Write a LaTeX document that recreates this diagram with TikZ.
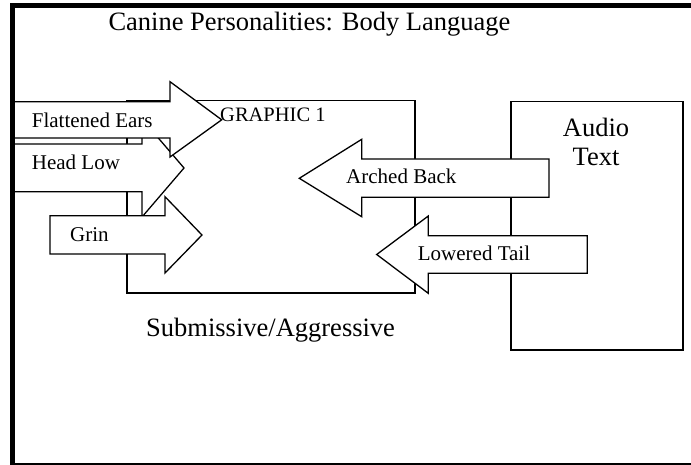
\documentclass[tikz,border=0pt]{standalone}
\usepackage{fontspec}
\setmainfont{Liberation Serif}
\begin{document}
\begin{tikzpicture}[x=1pt,y=-1pt,
  panel/.style={draw, line width=1.3pt, fill=white, inner sep=0pt},
  blockarrow/.style={draw, line width=1.3pt, fill=white, line join=miter},
  label/.style={inner sep=0pt, anchor=base west, font=\fontsize{21}{25}\selectfont},
  bigtext/.style={inner sep=0pt, font=\fontsize{26.5}{30}\selectfont}]
\useasboundingbox (0,0) rectangle (691,465);
\fill[white] (0,0) rectangle (691,465);

% picture area and audio panel
\node[panel, minimum width=288pt, minimum height=192.5pt] (graphic) at (271,196.75) {};
\node[panel, minimum width=172pt, minimum height=248.5pt] (audio) at (597,225.75) {};
\node[inner sep=0pt, anchor=base west, font=\fontsize{20.5}{24}\selectfont] (graphiclbl) at (220,121.7) {GRAPHIC 1};

% body-language cues pointing into the picture
\draw[blockarrow] (12,144) -- (142,144) -- (142,119) -- (184,168) -- (142,217) -- (142,191.7) -- (12,191.7) -- cycle;
\draw[blockarrow] (12,101.7) -- (170,101.7) -- (170,81.7) -- (221.7,119.8) -- (170,157) -- (170,138) -- (12,138) -- cycle;
\draw[blockarrow] (50,215.7) -- (165,215.7) -- (165,196.7) -- (202,235) -- (165,273) -- (165,254) -- (50,254) -- cycle;
\draw[blockarrow] (549,159) -- (361.7,159) -- (361.7,139.3) -- (299.3,178.3) -- (361.7,216.7) -- (361.7,197.3) -- (549,197.3) -- cycle;
\draw[blockarrow] (587.3,235.7) -- (428.3,235.7) -- (428.3,216) -- (376.7,254.5) -- (428.3,293.3) -- (428.3,273.3) -- (587.3,273.3) -- cycle;

\node[label] (ears) at (31.7,127.3) {Flattened Ears};
\node[label] (head) at (31.7,169.3) {Head Low};
\node[label] (grin) at (70,241.7) {Grin};
\node[label] (back) at (346,184) {Arched Back};
\node[label] (tail) at (417.7,260.7) {Lowered Tail};

% headings
\node[bigtext, anchor=base west] (title) at (108.3,30.7) {Canine Personalities: Body Language};
\node[bigtext, anchor=base west] (caption) at (146,336) {Submissive/Aggressive};
\node[bigtext, anchor=base] (audio1) at (596,136.7) {Audio};
\node[bigtext, anchor=base] (audio2) at (596,166) {Text};

% outer frame
\begin{scope}
\clip (0,0) rectangle (691,465);
\draw[line width=5pt, line join=miter] (760,5.5) -- (12.5,5.5) -- (12.5,465.5) -- (760,465.5);
\end{scope}
\end{tikzpicture}
\end{document}
